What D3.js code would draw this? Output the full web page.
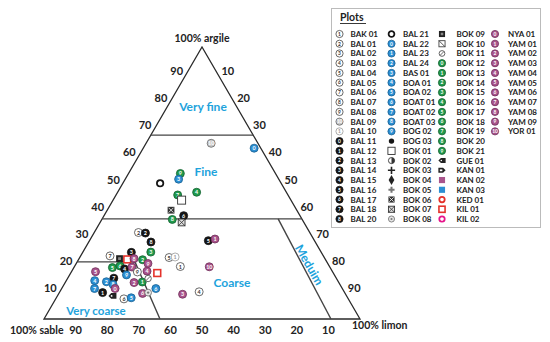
<!DOCTYPE html>
<html><head><meta charset="utf-8">
<script src="https://cdn.jsdelivr.net/npm/d3@7"></script>
<style>body{margin:0;background:#fff}svg{display:block}text{font-family:Lato,'Open Sans',sans-serif;font-weight:700}</style>
</head><body><svg id="c" width="550" height="342"></svg>
<script>
// ---------- DATA ----------
const legendTitle = "Plots";
const legendCol1 = ["BAK 01","BAL 01","BAL 02","BAL 03","BAL 04","BAL 05","BAL 06","BAL 07","BAL 08","BAL 09","BAL 10","BAL 11","BAL 12","BAL 13","BAL 14","BAL 15","BAL 16","BAL 17","BAL 18","BAL 20"];
const legendCol2 = ["BAL 21","BAL 22","BAL 23","BAL 24","BAS 01","BOA 01","BOA 02","BOAT 01","BOAT 02","BOAT 03","BOG 02","BOG 03","BOK 01","BOK 02","BOK 03","BOK 04","BOK 05","BOK 06","BOK 07","BOK 08"];
const legendCol3 = ["BOK 09","BOK 10","BOK 11","BOK 12","BOK 13","BOK 14","BOK 15","BOK 16","BOK 17","BOK 18","BOK 19","BOK 20","BOK 21","GUE 01","KAN 01","KAN 02","KAN 03","KED 01","KIL 01","KIL 02"];
const legendCol4 = ["NYA 01","YAM 01","YAM 02","YAM 03","YAM 04","YAM 05","YAM 06","YAM 07","YAM 08","YAM 09","YOR 01"];

const cornerLabels = ["100% sable","100% limon","100% argile"];
const tickValues = [90,80,70,60,50,40,30,20,10];
const classNames = ["Very fine","Fine","Coarse","Very coarse","Meduim"];

// class boundary lines, each vertex as [sable, limon, argile] (%)
const classLines = [
  [[32.4,0,67.6],[0,32.4,67.6]],
  [[63.2,0,36.8],[0,63.2,36.8]],
  [[79,0,21],[60.7,18.3,21],[63.3,36.7,0]],
  [[7.5,55.7,36.8],[9.2,90.8,0]]
];

// samples
const pointPlot = ["BAL 09","BAL 22","BOK 21","BAS 01","BAL 21","BOK 19","BOK 16","BOK 01","BOK 06","BOK 20",
  "BAL 17","BOK 07","BAL 01","BAL 13","BAL 20","BOK 15","BAL 14","BAL 06","BOK 09","KIL 01",
  "YAM 08","BOK 14","YAM 09","YAM 05","BOK 17","BOK 18","BAL 15","YAM 07","BOG 02","BAL 08",
  "YAM 04","KIL 01","BAK 01","BAL 04","BAL 10","BAL 16","YAM 01","YOR 01","YAM 03","BAL 03",
  "BOAT 01","YAM 06","BOK 08","BOK 13","YAM 02","BOK 11","BAL 18","BAL 24","BOAT 03","NYA 01",
  "BOA 01","BOAT 02","BAL 12","GUE 01","BAL 05","BOA 02"];
const pointSable = [14.8,2.1,30.1,31.7,38.3,34.9,28.4,34.6,39.8,41.1,
  36.8,38.7,54.2,52.1,52.0,53.9,60.1,67.5,65.0,62.7,
  60.4,57.9,56.9,75.0,68.9,66.2,65.3,62.6,65.8,61.8,
  58.6,55.7,47.2,49.1,47.1,33.6,31.2,38.1,51.6,45.9,
  59.0,64.1,62.2,62.1,64.8,59.6,70.4,73.4,71.8,71.9,
  76.9,78.4,76.6,74.1,71.0,68.5];
const pointLimon = [20.6,35.1,16.4,16.9,11.8,19.5,25.0,21.7,20.2,22.3,
  25.2,25.8,14.0,16.3,19.7,21.5,15.4,9.3,12.8,15.4,
  17.4,20.3,22.7,7.6,12.2,14.3,16.3,18.3,18.0,20.9,
  23.8,27.4,33.5,28.3,30.1,37.6,39.4,42.7,39.3,44.1,
  29.8,26.5,28.1,24.3,21.8,25.5,14.6,12.9,15.5,16.9,
  9.0,10.4,13.7,17.4,21.6,23.7];
const pointArgile = [64.6,62.8,53.5,51.4,49.9,45.6,46.6,43.7,40.0,36.6,
  38.0,35.5,31.8,31.6,28.3,24.6,24.5,23.2,22.2,21.9,
  22.2,21.8,20.4,17.4,18.9,19.5,18.4,19.1,16.2,17.3,
  17.6,16.9,19.3,22.6,22.8,28.8,29.4,19.2,9.1,10.0,
  11.2,9.4,9.7,13.6,13.4,14.9,15.0,13.7,12.7,11.2,
  14.1,11.2,9.7,8.5,7.4,7.8];

// ---------- SCALES ----------
const svg = d3.select("#c");
const xS = d3.scaleLinear().domain([0,100]).range([44,360]);
const yS = d3.scaleLinear().domain([0,100]).range([319,47]);
function P(s,l,a){const t=s+l+a;l=l/t*100;a=a/t*100;return [xS(l+a/2),yS(a)];}

// ---------- STYLES ----------
const C = {blue:"#2b8fd3",green:"#1f9a4c",purple:"#a9548c",black:"#151515",red:"#e4322b",mag:"#e6148a",cls:"#1ea3dc"};
const styles = {};
legendCol1.forEach((n,i)=>{
  if(i<11){
    if(i===9) styles[n]={t:"num",fill:"#c9c9c9",stroke:"#666",tc:"#fff",n:"10"};
    else if(i===10) styles[n]={t:"num",fill:"#fff",stroke:"#999",tc:"#999",n:"1"};
    else styles[n]={t:"num",fill:"#fff",stroke:"#444",tc:"#333",n:String(i+1)};
  } else styles[n]={t:"num",fill:C.black,stroke:C.black,tc:"#fff",n:String(i-11)};
});
styles[legendCol2[0]]={t:"ring",stroke:C.black,w:1.8};
legendCol2.slice(1,11).forEach((n,i)=>styles[n]={t:"num",fill:C.blue,stroke:"#1a5f90",tc:"#fff",n:String(i)});
["dot","osq","half","plus","diam","scross","sqxf","sqx","gdot"].forEach((t,i)=>styles[legendCol2[11+i]]={t});
["bsq","sqd","cslash"].forEach((t,i)=>styles[legendCol3[i]]={t});
legendCol3.slice(3,13).forEach((n,i)=>styles[n]={t:"num",fill:C.green,stroke:"#145f30",tc:"#fff",n:String(i)});
["tagl","tagr","psq","bfsq","rring","rsq","mring"].forEach((t,i)=>styles[legendCol3[13+i]]={t});
legendCol4.forEach((n,i)=>styles[n]={t:"num",fill:C.purple,stroke:"#6e2d58",tc:"#fff",n:String(i)});

function sym(g,name,x,y,r){
  const s=styles[name]; const G=g.append("g").attr("transform",`translate(${x},${y})`);
  switch(s.t){
    case "num":
      G.append("circle").attr("r",r).attr("fill",s.fill).attr("stroke",s.stroke).attr("stroke-width",0.8);
      G.append("text").attr("y",r*0.5).attr("text-anchor","middle").attr("font-size",r*1.35).attr("fill",s.tc).text(s.n);break;
    case "ring":
      G.append("circle").attr("r",r*0.8).attr("fill","#fff").attr("stroke",s.stroke).attr("stroke-width",s.w);break;
    case "dot":
      G.append("circle").attr("r",r*0.75).attr("fill",C.black);break;
    case "osq":
      G.append("rect").attr("x",-r).attr("y",-r).attr("width",2*r).attr("height",2*r).attr("fill","#fff").attr("stroke","#333").attr("stroke-width",0.9);break;
    case "half":
      G.append("circle").attr("r",r*0.85).attr("fill","#fff").attr("stroke","#333").attr("stroke-width",0.9);
      G.append("path").attr("d",d3.arc()({innerRadius:0,outerRadius:r*0.85,startAngle:0,endAngle:Math.PI})).attr("fill","#333");break;
    case "plus":
      G.append("path").attr("d",`M${-r},0H${r}M0,${-r}V${r}`).attr("stroke","#222").attr("stroke-width",1.6);break;
    case "diam":
      G.append("path").attr("d",d3.symbol(d3.symbolDiamond,r*r*2.2)()).attr("fill","#222");break;
    case "scross":
      G.append("path").attr("d",d3.symbol(d3.symbolCross,r*r*1.6)()).attr("fill","#777");break;
    case "sqxf":
      G.append("rect").attr("x",-r*0.85).attr("y",-r*0.85).attr("width",1.7*r).attr("height",1.7*r).attr("fill","#333");
      G.append("path").attr("d",`M${-r*0.6},${-r*0.6}L${r*0.6},${r*0.6}M${r*0.6},${-r*0.6}L${-r*0.6},${r*0.6}`).attr("stroke","#fff").attr("stroke-width",0.8);break;
    case "sqx":
      G.append("rect").attr("x",-r*0.85).attr("y",-r*0.85).attr("width",1.7*r).attr("height",1.7*r).attr("fill","#ddd").attr("stroke","#333").attr("stroke-width",0.9);
      G.append("path").attr("d",`M${-r*0.85},${-r*0.85}L${r*0.85},${r*0.85}M${r*0.85},${-r*0.85}L${-r*0.85},${r*0.85}`).attr("stroke","#333").attr("stroke-width",0.8);break;
    case "gdot":
      G.append("circle").attr("r",r*0.85).attr("fill","#e6e6e6").attr("stroke","#777").attr("stroke-width",0.9);
      G.append("circle").attr("r",r*0.3).attr("fill","#777");break;
    case "bsq":
      G.append("rect").attr("x",-r*0.85).attr("y",-r*0.85).attr("width",1.7*r).attr("height",1.7*r).attr("fill","#222");
      G.append("rect").attr("x",-r*0.35).attr("y",-r*0.35).attr("width",0.7*r).attr("height",0.7*r).attr("fill","#888");break;
    case "sqd":
      G.append("rect").attr("x",-r*0.85).attr("y",-r*0.85).attr("width",1.7*r).attr("height",1.7*r).attr("fill","#fff").attr("stroke","#444").attr("stroke-width",0.9);
      G.append("path").attr("d",`M${-r*0.85},${-r*0.85}L${r*0.85},${r*0.85}`).attr("stroke","#444").attr("stroke-width",0.9);break;
    case "cslash":
      G.append("circle").attr("r",r*0.8).attr("fill","#fff").attr("stroke","#555").attr("stroke-width",0.9);
      G.append("path").attr("d",`M${-r*0.55},${r*0.55}L${r*0.55},${-r*0.55}`).attr("stroke","#555").attr("stroke-width",0.9);break;
    case "tagl":
      G.append("path").attr("d",`M${-r},0L${-r*0.3},${-r*0.7}H${r}V${r*0.7}H${-r*0.3}Z`).attr("fill","#222");
      G.append("circle").attr("cx",-r*0.2).attr("r",r*0.22).attr("fill","#fff");break;
    case "tagr":
      G.append("path").attr("d",`M${r},0L${r*0.3},${-r*0.7}H${-r}V${r*0.7}H${r*0.3}Z`).attr("fill","#222");
      G.append("rect").attr("x",-r*0.6).attr("y",-r*0.25).attr("width",r*0.7).attr("height",r*0.5).attr("fill","#fff");break;
    case "psq":
      G.append("rect").attr("x",-r*0.85).attr("y",-r*0.85).attr("width",1.7*r).attr("height",1.7*r).attr("fill",C.purple);break;
    case "bfsq":
      G.append("rect").attr("x",-r*0.85).attr("y",-r*0.85).attr("width",1.7*r).attr("height",1.7*r).attr("fill",C.blue);break;
    case "rring":
      G.append("circle").attr("r",r*0.75).attr("fill","#fff").attr("stroke",C.red).attr("stroke-width",1.8);break;
    case "rsq":
      G.append("rect").attr("x",-r*0.85).attr("y",-r*0.85).attr("width",1.7*r).attr("height",1.7*r).attr("fill","#fff").attr("stroke",C.red).attr("stroke-width",1.6);break;
    case "mring":
      G.append("circle").attr("r",r*0.75).attr("fill","#fff").attr("stroke",C.mag).attr("stroke-width",1.8);break;
  }
}

// ---------- TRIANGLE ----------
const tri=[P(100,0,0),P(0,100,0),P(0,0,100)];
svg.append("path").attr("d",d3.line()(tri)+"Z").attr("fill","none").attr("stroke","#2a2a2a").attr("stroke-width",1.3);
classLines.forEach(pts=>{
  svg.append("path").attr("d",d3.line()(pts.map(p=>P(...p)))).attr("fill","none").attr("stroke","#444").attr("stroke-width",1.4);
});

// ticks labels
const tg=svg.append("g").attr("font-size",11).attr("fill","#222");
tickValues.forEach(v=>{
  const b=P(v,100-v,0);
  tg.append("text").attr("x",b[0]).attr("y",b[1]+15).attr("text-anchor","middle").text(v);
  const lft=P(100-v,0,v);
  tg.append("text").attr("x",lft[0]-9.5).attr("y",lft[1]+0.5).attr("text-anchor","middle").text(v);
  const rt=P(0,v,100-v);
  tg.append("text").attr("x",rt[0]+10).attr("y",rt[1]+0.5).attr("text-anchor","middle").text(v);
});
const cg=svg.append("g").attr("font-size",10.5).attr("fill","#222");
cg.append("text").attr("x",10).attr("y",tri[0][1]+15).text(cornerLabels[0]);
cg.append("text").attr("x",352).attr("y",tri[1][1]+10).text(cornerLabels[1]);
cg.append("text").attr("x",tri[2][0]).attr("y",tri[2][1]-5).attr("text-anchor","middle").text(cornerLabels[2]);

// class labels
const lg=svg.append("g").attr("font-size",12).attr("fill",C.cls).attr("text-anchor","middle");
lg.append("text").attr("x",203).attr("y",111).text(classNames[0]);
lg.append("text").attr("x",206).attr("y",176).text(classNames[1]);
lg.append("text").attr("x",232).attr("y",287).text(classNames[2]);
lg.append("text").attr("x",96).attr("y",314.5).attr("font-size",11.5).text(classNames[3]);
lg.append("text").attr("transform","translate(309,265) rotate(60)").attr("y",4).text(classNames[4]);

// points
const pg=svg.append("g");
pointPlot.forEach((n,i)=>{
  const p=P(pointSable[i],pointLimon[i],pointArgile[i]);
  sym(pg,n,p[0],p[1],4);
});

// ---------- LEGEND ----------
const L=svg.append("g");
L.append("rect").attr("x",331.5).attr("y",8.5).attr("width",209).attr("height",219).attr("fill","#fff").attr("stroke","#bbb").attr("stroke-width",1);
L.append("text").attr("x",340).attr("y",21).attr("font-size",10.5).attr("fill","#222").text(legendTitle);
L.append("line").attr("x1",340).attr("x2",366).attr("y1",23.5).attr("y2",23.5).attr("stroke","#222").attr("stroke-width",0.9);
const rowY=d3.scaleLinear().domain([0,19]).range([34,219]);
[[legendCol1,339.5,350.5],[legendCol2,391.5,403],[legendCol3,442,456.5],[legendCol4,495,508]].forEach(([col,sx,tx])=>{
  col.forEach((n,i)=>{
    sym(L,n,sx,rowY(i),3.6);
    L.append("text").attr("x",tx).attr("y",rowY(i)+3).attr("font-size",8).attr("fill","#222").text(n);
  });
});
</script></body></html>
